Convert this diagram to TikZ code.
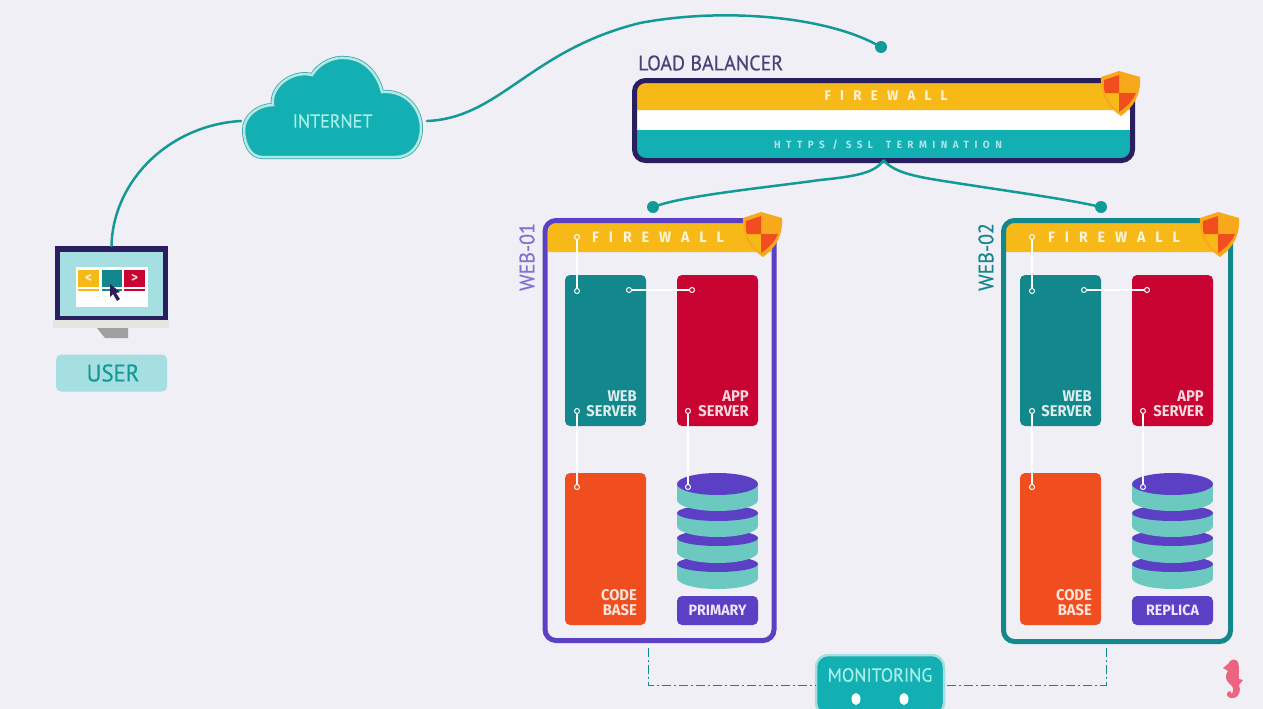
\documentclass[tikz,border=0pt]{standalone}
\usepackage{fontspec}
\setmainfont{Fira Sans}
\newfontfamily\thin{PT Sans}[FakeBold=0.35,FakeStretch=0.95]
\newfontfamily\heavy{Fira Sans}[FakeStretch=0.95]
\definecolor{bgc}{HTML}{F0EFF6}
\definecolor{yel}{HTML}{F6B917}
\definecolor{amber}{HTML}{F8A81B}
\definecolor{tealb}{HTML}{12B0B3}
\definecolor{teald}{HTML}{12878C}
\definecolor{line}{HTML}{139A96}
\definecolor{navy}{HTML}{2A1F5E}
\definecolor{purp}{HTML}{5B3FC4}
\definecolor{redc}{HTML}{C90432}
\definecolor{oran}{HTML}{F04E1E}
\definecolor{dbt}{HTML}{6CC9C0}
\definecolor{lite}{HTML}{A6DFE2}
\definecolor{pale}{HTML}{A9EDE8}
\definecolor{horse}{HTML}{EC6480}
\definecolor{basec}{HTML}{E4E5DE}
\tikzset{
  block/.style={rounded corners=5pt,inner sep=0,outer sep=0,minimum width=81pt,anchor=north west},
  boxtext/.style={font=\heavy\bfseries\fontsize{15.5}{15}\selectfont,text=white,align=right,anchor=south east,inner sep=0,opacity=.85},
  frame/.style={draw,line width=5pt,rounded corners=11pt,inner sep=0,outer sep=0,fill=none,anchor=north west},
  thinlabel/.style={font=\thin\fontsize{21}{22}\selectfont,inner sep=0},
  port/.style={circle,draw=white,fill=none,line width=1pt,minimum size=5pt,inner sep=0,outer sep=0},
  wire/.style={draw=white,line width=1.2pt},
  link/.style={draw=line,line width=2.5pt,line cap=round},
  enddot/.style={circle,fill=line,minimum size=12pt,inner sep=0,outer sep=0},
  fw/.style={text=white,inner sep=0,opacity=.85},
  monline/.style={draw=teald,line width=1pt,dash pattern=on 9pt off 3pt on 2pt off 3pt},
}
\newcommand{\shield}[2]{%
  \begin{scope}[shift={(#1,#2)}]
    \fill[amber] (-1,-22) -- (-19,-16) .. controls (-20,3) and (-12,14) .. (1,23) .. controls (13,14) and (21,3) .. (20,-16) -- cycle;
    \fill[yel] (-15,0) -- (-1,0) -- (-1,19) .. controls (-8,13) and (-13,7) .. (-15,0) -- cycle;
    \fill[oran] (-1,-18) -- (-16,-13) .. controls (-16.5,-8) and (-16,-3) .. (-15,0) -- (-1,0) -- cycle;
    \fill[oran] (-1,0) -- (16,0) .. controls (13,7) and (8,13) .. (-1,19) -- cycle;
  \end{scope}}
\newcommand{\dbcake}[1]{%
  \begin{scope}[xshift=#1]
    \fill[dbt] (677,565) rectangle (758,578);
    \fill[dbt] (717.5,578) ellipse [x radius=40.5,y radius=11];
    \fill[purp] (717.5,564) ellipse [x radius=40.5,y radius=8];
    \fill[dbt] (677,538) rectangle (758,552);
    \fill[dbt] (717.5,552) ellipse [x radius=40.5,y radius=11];
    \fill[purp] (717.5,538) ellipse [x radius=40.5,y radius=8];
    \fill[dbt] (677,513) rectangle (758,526);
    \fill[dbt] (717.5,526) ellipse [x radius=40.5,y radius=11];
    \fill[purp] (717.5,513) ellipse [x radius=40.5,y radius=8];
    \fill[dbt] (677,484) rectangle (758,500);
    \fill[dbt] (717.5,500) ellipse [x radius=40.5,y radius=11];
    \fill[purp] (717.5,484) ellipse [x radius=40.5,y radius=11];
  \end{scope}}
% #1 prefix, #2 xshift, #3 db label
\newcommand{\servers}[3]{%
  \begin{scope}[xshift=#2]
    \node[block,fill=teald,minimum height=151pt] (#1ws) at (565,275) {};
    \node[block,fill=redc,minimum height=151pt] (#1as) at (677,275) {};
    \node[block,fill=oran,minimum height=152pt] (#1cb) at (565,473) {};
    \node[block,fill=purp,minimum height=29pt] (#1db) at (677,596) {};
    \node[boxtext] (#1wst) at (637,417) {WEB\\SERVER};
    \node[boxtext] (#1ast) at (749,417) {APP\\SERVER};
    \node[boxtext] (#1cbt) at (637,616) {CODE\\BASE};
    \node[font=\heavy\bfseries\fontsize{15}{15}\selectfont,text=white,inner sep=0,opacity=.88] (#1dbt) at (717.5,610.5) {#3};
  \end{scope}}
\newcommand{\wires}[2]{%
  \begin{scope}[xshift=#2]
    \node[port] (#1p1) at (577,237) {};
    \node[port] (#1p2) at (577,291) {};
    \node[port] (#1p3) at (629,290) {};
    \node[port] (#1p4) at (692,290) {};
    \node[port] (#1p5) at (577,411) {};
    \node[port] (#1p6) at (577,487) {};
    \node[port] (#1p7) at (688,411) {};
    \node[port] (#1p8) at (688,487) {};
    \draw[wire] (#1p1) -- (#1p2);
    \draw[wire] (#1p3) -- (#1p4);
    \draw[wire] (#1p5) -- (#1p6);
    \draw[wire] (#1p7) -- (#1p8);
  \end{scope}}
\begin{document}
\begin{tikzpicture}[x=1pt,y=-1pt]
\useasboundingbox (0,0) rectangle (1263,709);
\clip (0,0) rectangle (1263,709);
\fill[bgc] (0,0) rectangle (1263,709);

% user monitor
\node[rectangle,fill=navy,inner sep=0,outer sep=0,minimum width=113pt,minimum height=74pt] (monitor) at (111.5,283) {};
\fill[lite] (60,252) rectangle (163,316);
\fill[white!92!bgc] (76,267) rectangle (148,307);
\fill[yel] (78,270) rectangle (99,287);
\fill[yel] (78,289) rectangle (99,291);
\fill[teald] (102,270) rectangle (122,287);
\fill[teald] (102,289) rectangle (122,291);
\fill[redc] (124,270) rectangle (145,287);
\fill[redc] (124,289) rectangle (145,291);
\node[font=\heavy\bfseries\fontsize{14}{14}\selectfont,text=white!80!yel,inner sep=0] (lt) at (88.5,278) {<};
\node[font=\heavy\bfseries\fontsize{14}{14}\selectfont,text=white!80!redc,inner sep=0] (gt) at (134.5,278) {>};
\fill[navy] (110,284) -- (110,297) -- (113,294) -- (117,301) -- (120,299) -- (116,293) -- (120,292) -- cycle;
\fill[basec] (53,320) rectangle (169,328);
\fill[gray!75!white] (97,328) -- (128,328) -- (128,338) -- (105,338) -- cycle;
\node[fill=lite,rounded corners=5pt,inner sep=0,outer sep=0,minimum width=111pt,minimum height=37pt,inner xsep=0,outer sep=0,text=line,font=\thin\fontsize{24}{25}\selectfont] (user) at (111.5,373) {\hspace{3pt}USER};

% internet cloud
\def\cloudpath{(262,157) .. controls (250,157) and (244,143) .. (244,130)
  .. controls (244,116) and (258,105) .. (273,105)
  .. controls (270,87) and (292,70) .. (312,75)
  .. controls (320,62) and (335,57) .. (344,58)
  .. controls (365,58) and (378,75) .. (382,92)
  .. controls (405,90) and (421,108) .. (421,128)
  .. controls (421,146) and (410,157) .. (396,157) -- cycle}
\path[fill=tealb,draw=teald!70!lite,line width=4pt] \cloudpath;
\path[draw=pale,line width=2.5pt] \cloudpath;
\node[font=\thin\fontsize{19}{20}\selectfont,text=pale,inner sep=0] (internet) at (332.5,121) {INTERNET};
\coordinate (cloudL) at (241,121);
\coordinate (cloudR) at (427,121);

% load balancer
\node[thinlabel,text=navy!85!white,anchor=west] (lbl) at (638,63) {LOAD BALANCER};
\fill[white!95!bgc] (636,108) rectangle (1131,132);
\fill[yel] (636,110) [rounded corners=7pt]-- (636,82) -- (1131,82) [sharp corners]-- (1131,110) -- cycle;
\fill[tealb] (636,130) [sharp corners]-- (1131,130) [rounded corners=7pt]-- (1131,159) -- (636,159) [sharp corners]-- cycle;
\node[frame,draw=navy,minimum width=498pt,minimum height=80pt] (lb) at (634.5,80.5) {};
\node[fw,font=\heavy\bfseries\addfontfeature{LetterSpace=66}\fontsize{14}{14}\selectfont] (fwlb) at (886,96) {FIREWALL};
\node[fw,opacity=.65,font=\heavy\bfseries\addfontfeature{LetterSpace=52}\fontsize{10.5}{11}\selectfont] (ssl) at (888,145) {HTTPS / SSL\hspace{5pt} TERMINATION};
\shield{1120}{93}

% web frames
\fill[yel] (548,252) [rounded corners=9pt]-- (548,223) -- (771,223) [sharp corners]-- (771,252) -- cycle;
\fill[yel] (1006,252) [rounded corners=9pt]-- (1006,223) -- (1227,223) [sharp corners]-- (1227,252) -- cycle;
\node[frame,draw=purp,minimum width=229pt,minimum height=420pt] (web1) at (545,220.5) {};
\node[frame,draw=teald,minimum width=227pt,minimum height=421pt] (web2) at (1003.5,220.5) {};
\node[font=\thin\fontsize{21}{22}\selectfont,text=purp!75!white,rotate=90,inner sep=0] (w1l) at (527,257) {WEB-01};
\node[font=\thin\fontsize{21}{22}\selectfont,text=teald,rotate=90,inner sep=0] (w2l) at (986,257) {WEB-02};
\node[fw,font=\heavy\bfseries\addfontfeature{LetterSpace=66}\fontsize{15}{14}\selectfont] (fw1) at (658,237) {FIREWALL};
\node[fw,font=\heavy\bfseries\addfontfeature{LetterSpace=66}\fontsize{15}{14}\selectfont] (fw2) at (1114,237) {FIREWALL};
\shield{762}{234}
\shield{1219}{234}
\servers{a}{0pt}{PRIMARY}
\servers{b}{455pt}{REPLICA}
\dbcake{0pt}
\dbcake{455pt}
\wires{a}{0pt}
\wires{b}{455pt}

% teal links
\node[enddot] (d0) at (881,47) {};
\node[enddot] (d1) at (653,207) {};
\node[enddot] (d2) at (1101,207) {};
\draw[link] (monitor.north) .. controls (113,180) and (170,125) .. (cloudL);
\draw[link] (cloudR) .. controls (500,118) and (530,50) .. (640,23) .. controls (725,7) and (825,17) .. (d0);
\draw[link] (lb.south) .. controls (875,172) and (860,176) .. (820,180) .. controls (770,187) and (690,195) .. (d1);
\draw[link] (lb.south) .. controls (895,172) and (910,176) .. (950,182) .. controls (1000,190) and (1060,198) .. (d2);

% monitoring
\node[fill=tealb,draw=lite,line width=2.5pt,rounded corners=12pt,inner sep=0,outer sep=0,minimum width=128pt,minimum height=60pt] (mon) at (880,685) {};
\node[font=\thin\fontsize{19}{20}\selectfont,text=pale,inner sep=0] (monl) at (880,675) {MONITORING};
\fill[white] (856,699) ellipse [x radius=4.5,y radius=6];
\fill[white] (904,699) ellipse [x radius=4.5,y radius=6];
\coordinate (mleft) at (648,648);
\coordinate (mright) at (1106,648);
\draw[monline] (mleft) |- (mon.west);
\draw[monline] (mright) |- (mon.east);

% seahorse
\fill[horse] (1223,668) -- (1228,664) .. controls (1230,659) and (1236,658) .. (1238,662)
  .. controls (1240,668) and (1238,674) .. (1239,679) -- (1243,680) -- (1239,685)
  .. controls (1241,690) and (1240,697) .. (1233,698) .. controls (1228,699) and (1225,694) .. (1228,692)
  .. controls (1230,690) and (1232,692) .. (1231,694) .. controls (1234,692) and (1234,688) .. (1231,685)
  .. controls (1226,681) and (1224,677) .. (1228,671) -- cycle;
\end{tikzpicture}
\end{document}
